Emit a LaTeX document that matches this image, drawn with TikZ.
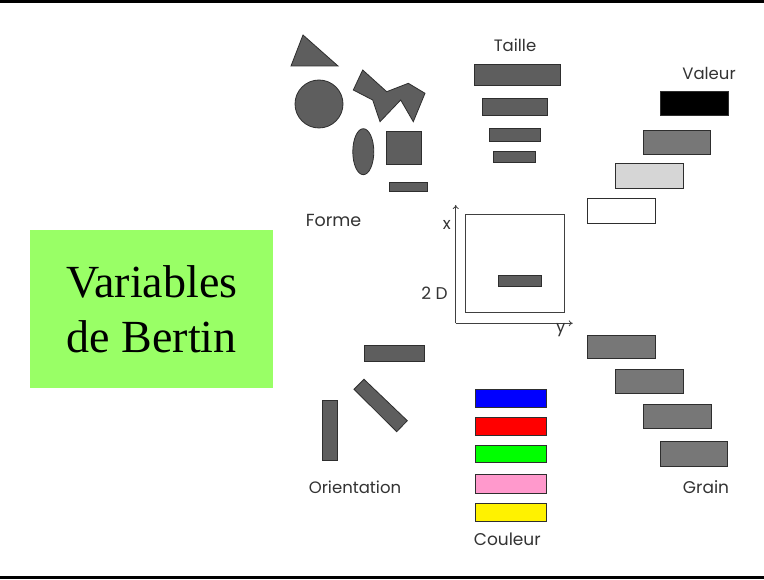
\documentclass[tikz,border=0pt]{standalone}
\usepackage{fontspec}
\setmainfont{Liberation Serif}
\newfontfamily\gothic{Poppins}
\usetikzlibrary{shapes.geometric,arrows.meta}
\definecolor{shapegray}{HTML}{5E5E5E}
\definecolor{edgegray}{HTML}{2E2E2E}
\definecolor{graingray}{HTML}{777777}
\definecolor{midgray}{HTML}{777777}
\definecolor{lightgray2}{HTML}{D6D6D6}
\definecolor{bertingreen}{HTML}{99FF66}
\definecolor{pinkish}{HTML}{FF99CC}
\tikzset{
  shp/.style={fill=shapegray,draw=edgegray,line width=0.8pt},
  bar/.style={fill=shapegray,draw=edgegray,line width=0.8pt},
  gbar/.style={fill=graingray,draw=edgegray,line width=0.8pt},
  cbar/.style={draw=edgegray,line width=0.8pt},
  lbl/.style={font=\gothic\fontsize{16.5}{19}\selectfont,inner sep=0pt,text=black!80},
}
\begin{document}
\begin{tikzpicture}[x=1pt,y=-1pt]
\useasboundingbox (0,0) rectangle (764,580);
\fill[white] (0,0) rectangle (764,580);
% frame lines
\draw[line width=3pt] (0,2) -- (764,2);
\draw[line width=3pt] (0,577) -- (764,577);
% title box
\node[fill=bertingreen,minimum width=243pt,minimum height=157.5pt,inner sep=0pt,
  align=center,font=\fontsize{46}{55}\selectfont] (title) at (151.7,308.8) {Variables\\de Bertin};
% ---- Forme
\draw[shp] (291,66) -- (303,35) -- (338,66) -- cycle;
\node[circle,shp,minimum size=48pt,inner sep=0pt] (circ) at (319,104) {};
\draw[shp] (362.7,70) -- (353.3,90) -- (372.7,100) -- (380,121.7) -- (400.7,100) -- (413.3,121.7) -- (425,93.3) -- (408.3,83.3) -- (386.7,91.7) -- cycle;
\node[ellipse,shp,minimum width=21pt,minimum height=46pt,inner sep=0pt] (ell) at (363.3,151.7) {};
\draw[shp] (386.7,131) rectangle (421.7,164.3);
\draw[bar] (389.3,182.3) rectangle (427,191.3);
\node[lbl,font=\gothic\fontsize{17.5}{20}\selectfont] (forme) at (333.5,220) {Forme};
% ---- Taille
\node[lbl] (taille) at (515,45) {Taille};
\draw[bar] (474.3,64.3) rectangle (560,85.7);
\draw[bar] (482.3,98.3) rectangle (547.3,115.7);
\draw[bar] (489.3,128.7) rectangle (540.7,141);
\draw[bar] (493.3,151.7) rectangle (535.7,162.7);
% ---- Valeur
\node[lbl] (valeur) at (709,73) {Valeur};
\draw[cbar,fill=black] (660,91) rectangle (728.3,115.3);
\draw[cbar,fill=midgray] (643.3,130) rectangle (710.7,154);
\draw[cbar,fill=lightgray2] (615.7,163.3) rectangle (683.3,188.3);
\draw[cbar,fill=white] (587.7,198.3) rectangle (655.3,223);
% ---- 2D
\draw[line width=0.8pt,draw=black!75] (465.7,214.3) rectangle (564.3,312.7);
\draw[bar] (498.3,275.7) rectangle (541.7,286.7);
\coordinate (origin) at (455.7,323.3);
\coordinate (xtip) at (455.7,205);
\coordinate (ytip) at (572.7,323.3);
\draw[line width=0.8pt,draw=black!75,-{To[length=4pt,width=6pt]}] (origin) -- (xtip);
\draw[line width=0.8pt,draw=black!75,-{To[length=4pt,width=6pt]}] (origin) -- (ytip);
\node[lbl] (xl) at (446.7,225) {x};
\node[lbl] (yl) at (560.7,330) {y};
\node[lbl,font=\gothic\fontsize{17}{20}\selectfont] (twod) at (434.5,293) {2 D};
% ---- Orientation
\draw[bar] (364,345.7) rectangle (424.3,361.7);
\draw[bar] (322.3,400) rectangle (337.7,460.7);
\draw[bar] (354,389.3) -- (364,379.3) -- (407.3,420.7) -- (396.7,431.7) -- cycle;
\node[lbl] (orient) at (355,487) {Orientation};
% ---- Couleur
\draw[cbar,fill=blue] (475.7,389.3) rectangle (546,407.3);
\draw[cbar,fill=red] (475.7,417.3) rectangle (546,435);
\draw[cbar,fill=green] (475.7,445) rectangle (546,462.7);
\draw[cbar,fill=pinkish] (475.7,474.3) rectangle (546,493.3);
\draw[cbar,fill=yellow] (475.7,503.3) rectangle (546,521);
\node[lbl,font=\gothic\fontsize{17}{20}\selectfont] (couleur) at (507.3,539.3) {Couleur};
% ---- Grain
\draw[gbar] (587.7,335) rectangle (655.3,358.7);
\draw[gbar] (615.3,369.3) rectangle (683.3,393.3);
\draw[gbar] (643.3,404.3) rectangle (711,428.3);
\draw[gbar] (660,441.7) rectangle (727.7,466.7);
\node[lbl,font=\gothic\fontsize{17}{20}\selectfont] (grain) at (706,487) {Grain};
\end{tikzpicture}
\end{document}
